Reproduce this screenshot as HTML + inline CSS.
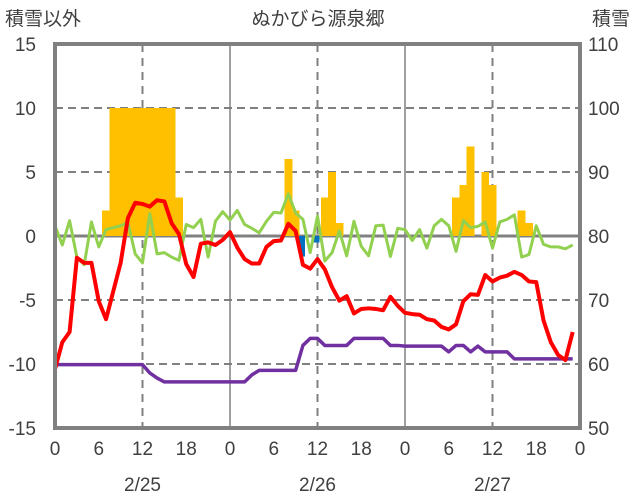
<!DOCTYPE html>
<html><head><meta charset="utf-8">
<style>
html,body{margin:0;padding:0;background:#fff;}
svg{display:block;font-family:"Liberation Sans","Noto Sans CJK JP",sans-serif;}
text{fill:#404040;font-size:19px;}
</style></head>
<body>
<svg id="chart" width="636" height="501" viewBox="0 0 636 501">
<text x="5" y="25">積雪以外</text>
<text x="318" y="25" text-anchor="middle">ぬかびら源泉郷</text>
<text x="630" y="25" text-anchor="end">積雪</text>
<g id="grid"></g>
<g id="bars"></g>
<g id="lines"></g>
<g id="axes"></g>
</svg>
<script>
const hourTicks=["0","6","12","18","0","6","12","18","0","6","12","18","0"];
const dateLabels=["2/25","2/26","2/27"];
const leftTicks=[15,10,5,0,-5,-10,-15];
const rightTicks=[110,100,90,80,70,60,50];
const precip=[0,0,0,0,0,0,0,2,10,10,10,10,10,10,10,10,10,3,0,0,0,0,0,0,0,0,0,0,0,0,0,0,6,2,-1.6,0,-0.5,3,5,1,0,0,0,0,0,0,0,0,0,0,0,0,0,0,0,3,4,7,0,5,4,0,0,0,2,1,0,0,0,0,0,0];
const red=[-10.4,-8.3,-7.5,-1.7,-2.1,-2.1,-5.1,-6.5,-4.3,-2.1,1.4,2.6,2.5,2.3,2.8,2.7,1.0,0.15,-2.2,-3.2,-0.6,-0.5,-0.7,-0.3,0.3,-0.9,-1.8,-2.15,-2.15,-0.85,-0.4,-0.35,0.95,0.4,-2.25,-2.55,-1.8,-2.6,-4.0,-5.05,-4.7,-6.05,-5.7,-5.65,-5.7,-5.8,-4.75,-5.45,-6.0,-6.1,-6.15,-6.5,-6.6,-7.1,-7.3,-6.9,-5.1,-4.55,-4.6,-3.05,-3.55,-3.25,-3.1,-2.8,-3.05,-3.55,-3.6,-6.6,-8.3,-9.3,-9.7,-7.5];
const green=[0.8,-0.7,1.2,-1.65,-2.25,1.1,-0.85,0.5,0.65,0.8,1.05,-1.4,-2.1,1.75,-1.4,-1.3,-1.65,-1.9,0.9,0.65,1.3,-1.65,1.15,1.9,1.25,2.0,0.9,0.6,0.25,1.15,1.85,1.8,3.3,1.8,1.3,-1.3,1.55,-1.95,-1.3,0.4,-1.55,1.15,-0.8,-1.55,0.8,0.85,-1.6,0.6,0.5,-0.35,0.5,-0.95,0.8,1.3,0.8,-1.2,1.2,0.65,0.75,1.1,-0.95,1.1,1.3,1.65,-1.65,-1.45,0.8,-0.65,-0.85,-0.85,-1.0,-0.7];
const depth=[59.9,59.9,59.9,59.9,59.9,59.9,59.9,59.9,59.9,59.9,59.9,59.9,59.9,58.6,57.8,57.2,57.2,57.2,57.2,57.2,57.2,57.2,57.2,57.2,57.2,57.2,57.2,58.3,59.0,59.0,59.0,59.0,59.0,59.0,62.9,64.0,64.0,62.9,62.9,62.9,62.9,64.0,64.0,64.0,64.0,64.0,62.9,62.9,62.8,62.8,62.8,62.8,62.8,62.8,61.9,62.9,62.9,61.9,62.8,61.9,61.9,61.9,61.9,60.8,60.8,60.8,60.8,60.8,60.8,60.8,60.8,60.8];

const X0=55,X1=580,Y0=44,Y1=428,H=72;
const xs=h=>X0+(X1-X0)*h/H;
const yl=v=>Y0+(15-v)*(Y1-Y0)/30;
const yr=v=>Y0+(110-v)*(Y1-Y0)/60;
const NS="http://www.w3.org/2000/svg";
function mk(tag,parent,attrs){const e=document.createElementNS(NS,tag);for(const k in attrs)e.setAttribute(k,attrs[k]);parent.appendChild(e);return e;}
const grid=document.getElementById('grid'),bars=document.getElementById('bars'),lines=document.getElementById('lines'),axes=document.getElementById('axes');

[10,5,-5,-10].forEach(v=>{
  const l=mk('line',grid,{x1:X0,x2:X1,y1:yl(v),y2:yl(v),stroke:'#808080','stroke-width':2,'stroke-dasharray':'8,5'});
  
  
});
[12,24,36,48,60].forEach(h=>{
  const dashed=(h%24)!==0;
  const l=mk('line',grid,{x1:xs(h),x2:xs(h),y1:Y0,y2:Y1,stroke:'#808080','stroke-width':dashed?2:1.5});
  if(dashed)l.setAttribute('stroke-dasharray','8,6');
  
  
});

const bw=(X1-X0)/H;
precip.forEach((v,i)=>{
  if(!v)return;
  const y=Math.min(yl(v),yl(0)),hgt=Math.abs(yl(v)-yl(0));
  const r=mk('rect',bars,{x:xs(i)-bw/2-0.3,y:y,width:v<0?bw*0.8:bw+0.6,height:hgt,fill:v>0?'#ffc000':'#0070c0','shape-rendering':'crispEdges'});
  
  
});
const zl=mk('line',grid,{x1:X0,x2:X1,y1:yl(0),y2:yl(0),stroke:'#808080','stroke-width':3});



function poly(arr,fy,color,w,name){
  const p=mk('polyline',lines,{points:arr.map((v,i)=>xs(i)+','+fy(v)).join(' '),fill:'none',stroke:color,'stroke-width':w,'stroke-linejoin':'round'});
  
  
}
poly(green,yl,'#92d050',3,'green-series-line');
poly(depth,yr,'#7030a0',3.5,'snow-depth-line');
poly(red,yl,'#ff0000',4,'temperature-line');

const box=mk('rect',axes,{x:X0,y:Y0,width:X1-X0,height:Y1-Y0,fill:'none',stroke:'#808080','stroke-width':4});


leftTicks.forEach(v=>{
  const t=mk('text',axes,{x:36,y:yl(v)+7,'text-anchor':'end'});t.textContent=v;
  
  
});
rightTicks.forEach(v=>{
  const t=mk('text',axes,{x:588,y:yr(v)+7});t.textContent=v;
  
  
});
hourTicks.forEach((s,i)=>{
  const t=mk('text',axes,{x:xs(i*6),y:455,'text-anchor':'middle'});t.textContent=s;
  
  
});
dateLabels.forEach((s,i)=>{
  const t=mk('text',axes,{x:xs(12+24*i),y:491,'text-anchor':'middle'});t.textContent=s;
  
  
});
</script>
</body></html>
